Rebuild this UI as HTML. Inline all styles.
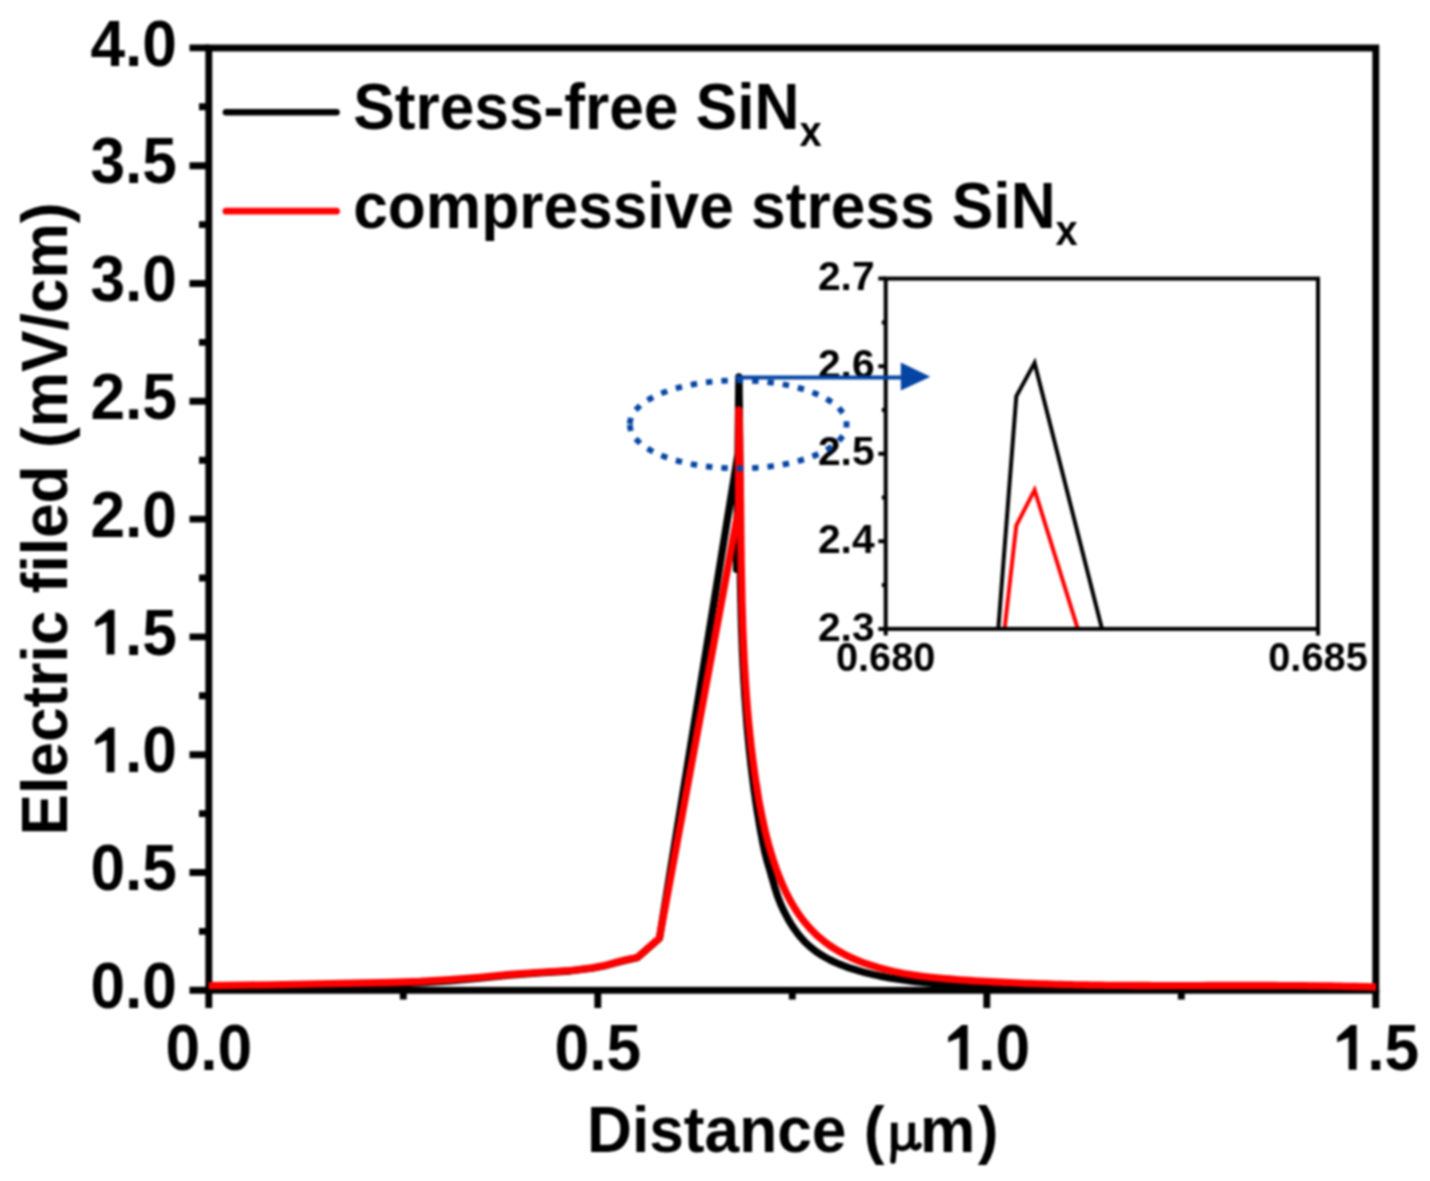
<!DOCTYPE html>
<html><head><meta charset="utf-8"><title>Electric field chart</title>
<style>html,body{margin:0;padding:0;background:#fff;width:1430px;height:1181px;overflow:hidden}</style>
</head><body>
<svg width="1430" height="1181" viewBox="0 0 1430 1181" style="display:block;filter:blur(0.8px)">
<rect width="1430" height="1181" fill="#fff"/>
<text transform="translate(67.20,519.00) rotate(-90) scale(0.958,1)" text-anchor="middle" font-family='"Liberation Sans", sans-serif' font-weight="bold" font-size="65" >Electric filed (mV/cm)</text>
<text transform="translate(587.00,1151.50) scale(0.958,1)" text-anchor="start" font-family='"Liberation Sans", sans-serif' font-weight="bold" font-size="65" >Distance (</text>
<text transform="translate(919.90,1151.50) scale(0.958,1)" text-anchor="start" font-family='"Liberation Sans", sans-serif' font-weight="bold" font-size="65" >m</text>
<text transform="translate(977.80,1151.50) scale(0.958,1)" text-anchor="start" font-family='"Liberation Sans", sans-serif' font-weight="bold" font-size="65" >)</text>
<g fill="none" stroke="#000"><path d="M894.3,1122.7 V1149" stroke-width="6.6"/><path d="M894.3,1146 L893.0,1161" stroke-width="5.6" stroke-linecap="round"/><path d="M894.3,1139 C894.6,1151.5 908.5,1151.5 911.8,1140" stroke-width="5.4"/><path d="M911.8,1122.7 V1141" stroke-width="6.4"/><path d="M911.8,1140 C912,1149 916,1149.5 919.0,1145.3" stroke-width="5.6" stroke-linecap="round"/></g>
<text transform="translate(90.44,1007.90) scale(0.958,1)" text-anchor="start" font-family='"Liberation Sans", sans-serif' font-weight="bold" font-size="65" >0.0</text>
<text transform="translate(90.44,890.10) scale(0.958,1)" text-anchor="start" font-family='"Liberation Sans", sans-serif' font-weight="bold" font-size="65" >0.5</text>
<path d="M530,0 L530,1021 L155,870 L155,1037 L602,1409 L793,1409 L793,0 Z" transform="translate(90.44,772.30) scale(0.030405,-0.031738)" fill="#000"/>
<text transform="translate(125.07,772.30) scale(0.958,1)" text-anchor="start" font-family='"Liberation Sans", sans-serif' font-weight="bold" font-size="65" >.0</text>
<path d="M530,0 L530,1021 L155,870 L155,1037 L602,1409 L793,1409 L793,0 Z" transform="translate(90.44,654.50) scale(0.030405,-0.031738)" fill="#000"/>
<text transform="translate(125.07,654.50) scale(0.958,1)" text-anchor="start" font-family='"Liberation Sans", sans-serif' font-weight="bold" font-size="65" >.5</text>
<text transform="translate(90.44,536.70) scale(0.958,1)" text-anchor="start" font-family='"Liberation Sans", sans-serif' font-weight="bold" font-size="65" >2.0</text>
<text transform="translate(90.44,418.90) scale(0.958,1)" text-anchor="start" font-family='"Liberation Sans", sans-serif' font-weight="bold" font-size="65" >2.5</text>
<text transform="translate(90.44,301.10) scale(0.958,1)" text-anchor="start" font-family='"Liberation Sans", sans-serif' font-weight="bold" font-size="65" >3.0</text>
<text transform="translate(90.44,183.30) scale(0.958,1)" text-anchor="start" font-family='"Liberation Sans", sans-serif' font-weight="bold" font-size="65" >3.5</text>
<text transform="translate(90.44,65.50) scale(0.958,1)" text-anchor="start" font-family='"Liberation Sans", sans-serif' font-weight="bold" font-size="65" >4.0</text>
<text transform="translate(165.52,1069.80) scale(0.958,1)" text-anchor="start" font-family='"Liberation Sans", sans-serif' font-weight="bold" font-size="65" >0.0</text>
<text transform="translate(554.52,1069.80) scale(0.958,1)" text-anchor="start" font-family='"Liberation Sans", sans-serif' font-weight="bold" font-size="65" >0.5</text>
<path d="M530,0 L530,1021 L155,870 L155,1037 L602,1409 L793,1409 L793,0 Z" transform="translate(943.52,1069.80) scale(0.030405,-0.031738)" fill="#000"/>
<text transform="translate(978.15,1069.80) scale(0.958,1)" text-anchor="start" font-family='"Liberation Sans", sans-serif' font-weight="bold" font-size="65" >.0</text>
<path d="M530,0 L530,1021 L155,870 L155,1037 L602,1409 L793,1409 L793,0 Z" transform="translate(1332.52,1069.80) scale(0.030405,-0.031738)" fill="#000"/>
<text transform="translate(1367.15,1069.80) scale(0.958,1)" text-anchor="start" font-family='"Liberation Sans", sans-serif' font-weight="bold" font-size="65" >.5</text>
<path d="M189.5,990.3H208.8 M189.5,872.5H208.8 M189.5,754.7H208.8 M189.5,636.9H208.8 M189.5,519.1H208.8 M189.5,401.3H208.8 M189.5,283.5H208.8 M189.5,165.7H208.8 M189.5,47.9H208.8 M199,931.4H208.8 M199,813.6H208.8 M199,695.8H208.8 M199,578.0H208.8 M199,460.2H208.8 M199,342.4H208.8 M199,224.6H208.8 M199,106.8H208.8 M208.8,990.3V1008 M597.8,990.3V1008 M986.8,990.3V1008 M1375.8,990.3V1008 M403.3,990.3V999.5 M792.3,990.3V999.5 M1181.3,990.3V999.5" stroke="#000" stroke-width="6.9" fill="none"/>
<rect x="208.8" y="48" width="1167.0" height="942.3" fill="none" stroke="#000" stroke-width="6.9"/>
<polyline points="208.8,987.0 270.0,986.2 330.0,985.2 390.0,984.0 420.0,982.8 450.0,980.8 480.0,978.2 510.0,975.2 540.0,972.8 570.0,971.0 592.4,968.2 604.0,966.0 614.0,963.2 625.0,960.4 637.3,957.8 659.5,938.2 737.8,455.0 736.6,569.4 738.9,377.0 739.0,382.3 739.1,387.6 739.1,392.9 739.2,398.2 739.3,403.5 739.3,408.8 739.4,414.1 739.4,419.4 739.5,424.7 739.5,430.1 739.6,435.4 739.6,440.7 739.6,446.0 739.6,451.3 739.7,456.6 739.7,461.9 739.7,467.2 739.7,472.5 739.7,477.8 739.8,483.1 739.8,488.4 739.8,493.7 739.8,499.1 739.8,504.4 739.8,509.7 739.9,515.0 739.9,520.3 739.9,525.6 739.9,530.9 740.0,536.2 740.0,541.5 740.1,546.8 740.1,552.1 740.2,557.5 740.2,562.8 740.3,568.1 740.4,573.4 740.4,578.7 740.5,584.0 740.6,589.3 740.7,594.6 740.8,599.9 741.0,605.2 741.1,610.5 741.2,615.8 741.4,621.1 741.5,626.4 741.7,631.7 741.9,637.0 742.1,642.3 742.3,647.6 742.5,652.9 742.8,658.2 743.0,663.5 743.3,668.8 743.6,674.1 743.8,679.4 744.2,684.7 744.5,690.0 744.8,695.3 745.2,700.6 745.6,705.9 746.0,711.2 746.4,716.5 746.8,721.8 747.2,727.1 747.7,732.4 748.2,737.7 748.7,742.9 749.2,748.2 749.8,753.5 750.4,758.8 750.9,764.1 751.6,769.4 752.2,774.6 752.9,779.9 753.5,785.2 754.2,790.5 755.0,795.7 755.7,801.0 756.5,806.2 757.3,811.4 758.2,816.6 759.0,821.8 759.9,827.0 760.8,832.1 761.8,837.1 762.7,842.2 763.8,847.2 764.8,852.1 766.1,857.1 767.4,862.0 768.9,867.0 770.4,871.9 771.8,876.9 773.2,881.8 774.6,886.8 776.1,891.6 777.7,896.5 779.5,901.2 781.4,905.8 783.6,910.5 786.0,915.1 788.5,919.8 791.3,924.4 794.3,928.9 797.4,933.2 800.8,937.4 804.3,941.3 808.1,945.0 812.1,948.4 816.2,951.6 820.5,954.5 825.0,957.1 829.5,959.6 834.2,961.9 839.0,964.0 843.9,965.9 848.8,967.7 853.8,969.3 858.8,970.8 863.8,972.2 868.9,973.5 874.0,974.7 879.0,975.8 884.1,976.8 889.2,977.8 894.3,978.6 899.5,979.5 904.6,980.2 909.7,980.9 914.9,981.5 920.1,982.1 925.2,982.7 930.4,983.2 935.6,983.7 940.8,984.1 946.1,984.6 951.3,985.0 956.5,985.4 961.7,985.7 967.0,986.1 972.3,986.4 977.5,986.7 982.8,986.9 988.1,987.2 993.4,987.4 998.7,987.6 1003.9,987.8 1009.3,987.9 1014.6,988.1 1019.9,988.2 1025.2,988.3 1030.5,988.4 1035.9,988.5 1041.2,988.6 1046.5,988.6 1051.9,988.7 1057.2,988.7 1062.6,988.7 1067.9,988.7 1073.3,988.7 1078.7,988.7 1084.0,988.6 1089.4,988.6 1094.8,988.5 1100.1,988.5 1105.5,988.4 1110.9,988.3 1116.3,988.2 1121.6,988.1 1127.0,988.0 1132.4,987.9 1137.8,987.8 1143.1,987.7 1148.5,987.6 1153.9,987.5 1159.3,987.4 1164.6,987.3 1170.0,987.2 1175.4,987.1 1180.8,987.0 1186.1,986.9 1191.5,986.8 1196.9,986.7 1202.2,986.6 1207.6,986.5 1212.9,986.4 1218.3,986.3 1223.6,986.2 1229.0,986.1 1234.3,986.1 1239.6,986.0 1245.0,986.0 1250.3,985.9 1255.6,985.9 1260.9,985.9 1266.2,985.9 1271.6,985.9 1276.8,985.9 1282.1,985.9 1287.4,986.0 1292.7,986.0 1298.0,986.1 1303.2,986.2 1308.5,986.3 1313.7,986.4 1319.0,986.6 1324.2,986.8 1329.4,986.9 1334.6,987.1 1339.8,987.3 1345.0,987.6 1350.2,987.9 1355.4,988.1 1360.6,988.4 1365.7,988.8 1370.9,989.1 1376.0,989.5" fill="none" stroke="#000" stroke-width="7.3" stroke-linejoin="round"/>
<polyline points="208.8,985.7 270.0,984.8 330.0,983.7 390.0,982.5 420.0,981.5 450.0,979.7 480.0,977.3 510.0,974.5 540.0,972.3 570.0,970.6 592.4,967.9 604.0,965.7 614.0,962.9 625.0,960.1 637.3,957.5 659.4,938.2 738.5,509.6 738.8,410.0 738.9,410.2 739.0,415.3 739.2,420.3 739.3,425.3 739.4,430.3 739.5,435.4 739.6,440.4 739.7,445.5 739.8,450.5 739.9,455.6 740.0,460.6 740.1,465.7 740.1,470.8 740.2,475.8 740.3,480.9 740.3,486.0 740.4,491.1 740.4,496.1 740.5,501.2 740.6,506.3 740.6,511.4 740.7,516.5 740.7,521.6 740.8,526.7 740.8,531.8 740.9,536.9 740.9,542.0 741.0,547.1 741.1,552.2 741.1,557.3 741.2,562.4 741.3,567.5 741.4,572.6 741.5,577.7 741.6,582.8 741.7,587.9 741.8,593.0 741.9,598.1 742.0,603.2 742.2,608.3 742.3,613.4 742.5,618.5 742.6,623.6 742.8,628.7 743.0,633.8 743.2,638.9 743.4,644.0 743.6,649.1 743.9,654.2 744.1,659.3 744.4,664.4 744.7,669.5 745.0,674.5 745.3,679.6 745.6,684.7 746.0,689.8 746.3,694.8 746.7,699.9 747.1,704.9 747.5,710.0 748.0,715.0 748.4,720.1 748.9,725.1 749.4,730.2 749.9,735.2 750.5,740.2 751.0,745.3 751.6,750.3 752.2,755.3 752.8,760.3 753.5,765.3 754.2,770.3 754.9,775.3 755.6,780.2 756.4,785.2 757.2,790.2 758.0,795.1 758.8,800.1 759.7,805.0 760.7,810.0 761.6,814.9 762.7,819.8 763.7,824.7 764.8,829.6 766.0,834.5 767.2,839.3 768.5,844.2 769.9,849.0 771.3,853.8 772.8,858.6 774.3,863.3 776.0,868.1 777.7,872.8 779.5,877.5 781.4,882.1 783.4,886.7 785.5,891.3 787.8,895.8 790.1,900.2 792.6,904.6 795.2,908.8 797.9,913.0 800.8,917.1 803.8,921.1 807.0,924.9 810.2,928.6 813.7,932.2 817.2,935.6 821.0,938.8 824.8,941.9 828.8,944.9 832.9,947.6 837.1,950.3 841.5,952.7 845.9,955.1 850.4,957.3 855.0,959.3 859.7,961.3 864.4,963.1 869.2,964.8 874.1,966.3 878.9,967.8 883.8,969.1 888.8,970.3 893.7,971.5 898.7,972.5 903.7,973.5 908.7,974.3 913.7,975.1 918.7,975.8 923.8,976.5 928.8,977.1 933.9,977.6 939.0,978.1 944.0,978.6 949.1,979.0 954.2,979.4 959.3,979.8 964.4,980.1 969.5,980.5 974.6,980.8 979.6,981.1 984.7,981.4 989.8,981.7 994.9,982.0 1000.0,982.2 1005.1,982.5 1010.1,982.7 1015.2,982.9 1020.3,983.1 1025.4,983.3 1030.4,983.5 1035.5,983.7 1040.6,983.9 1045.7,984.0 1050.7,984.2 1055.8,984.3 1060.9,984.5 1066.0,984.6 1071.0,984.7 1076.1,984.8 1081.2,984.9 1086.3,985.0 1091.3,985.1 1096.4,985.1 1101.5,985.2 1106.5,985.3 1111.6,985.3 1116.7,985.4 1121.8,985.4 1126.8,985.4 1131.9,985.5 1137.0,985.5 1142.0,985.5 1147.1,985.5 1152.2,985.6 1157.3,985.6 1162.3,985.6 1167.4,985.6 1172.5,985.6 1177.6,985.6 1182.6,985.6 1187.7,985.6 1192.8,985.6 1197.9,985.6 1202.9,985.6 1208.0,985.5 1213.1,985.5 1218.2,985.5 1223.2,985.5 1228.3,985.5 1233.4,985.5 1238.5,985.5 1243.6,985.5 1248.6,985.5 1253.7,985.5 1258.8,985.5 1263.9,985.5 1269.0,985.5 1274.1,985.5 1279.1,985.6 1284.2,985.6 1289.3,985.6 1294.4,985.6 1299.5,985.7 1304.6,985.7 1309.7,985.8 1314.8,985.8 1319.9,985.9 1325.0,985.9 1330.1,986.0 1335.2,986.1 1340.3,986.2 1345.4,986.3 1350.5,986.4 1355.6,986.5 1360.7,986.6 1365.8,986.7 1370.9,986.9 1376.0,987.0" fill="none" stroke="#ff0000" stroke-width="7.3" stroke-linejoin="round"/>
<line x1="226" y1="112.3" x2="336.5" y2="112.3" stroke="#000" stroke-width="6.6" stroke-linecap="round"/>
<line x1="226" y1="211.2" x2="336.5" y2="211.2" stroke="#ff0000" stroke-width="6.8" stroke-linecap="round"/>
<text transform="translate(353.20,128.60) scale(0.958,1)" text-anchor="start" font-family='"Liberation Sans", sans-serif' font-weight="bold" font-size="65" >Stress-free SiN<tspan font-size="41.6" dy="16.9">x</tspan></text>
<text transform="translate(353.20,227.70) scale(0.958,1)" text-anchor="start" font-family='"Liberation Sans", sans-serif' font-weight="bold" font-size="65" >compressive stress SiN<tspan font-size="41.6" dy="17.7">x</tspan></text>
<rect x="885.7" y="278.6" width="432.3" height="350.3" fill="#fff" stroke="none"/>
<polyline points="998.3,628.9 1016.3,396.4 1034.6,362.9 1102.0,628.9" fill="none" stroke="#000" stroke-width="4.0"/>
<polyline points="1004.6,628.9 1016.3,525.5 1034.6,489.9 1077.8,628.9" fill="none" stroke="#ff0000" stroke-width="4.0"/>
<path d="M878.3,628.9H885.7 M878.3,541.3H885.7 M878.3,453.7H885.7 M878.3,366.2H885.7 M878.3,278.6H885.7 M881.8,585.1H885.7 M881.8,497.5H885.7 M881.8,410.0H885.7 M881.8,322.4H885.7 M885.7,628.9V635.5 M1318.0,628.9V635.5" stroke="#000" stroke-width="4.0" fill="none"/>
<rect x="885.7" y="278.6" width="432.3" height="350.3" fill="none" stroke="#000" stroke-width="4.0"/>
<text transform="translate(874.60,640.60) scale(1.0,1)" text-anchor="end" font-family='"Liberation Sans", sans-serif' font-weight="bold" font-size="40.8" >2.3</text>
<text transform="translate(874.60,553.02) scale(1.0,1)" text-anchor="end" font-family='"Liberation Sans", sans-serif' font-weight="bold" font-size="40.8" >2.4</text>
<text transform="translate(874.60,465.45) scale(1.0,1)" text-anchor="end" font-family='"Liberation Sans", sans-serif' font-weight="bold" font-size="40.8" >2.5</text>
<text transform="translate(874.60,377.88) scale(1.0,1)" text-anchor="end" font-family='"Liberation Sans", sans-serif' font-weight="bold" font-size="40.8" >2.6</text>
<text transform="translate(874.60,290.30) scale(1.0,1)" text-anchor="end" font-family='"Liberation Sans", sans-serif' font-weight="bold" font-size="40.8" >2.7</text>
<text transform="translate(885.70,671.20) scale(0.97,1)" text-anchor="middle" font-family='"Liberation Sans", sans-serif' font-weight="bold" font-size="41" >0.680</text>
<text transform="translate(1318.00,671.20) scale(0.97,1)" text-anchor="middle" font-family='"Liberation Sans", sans-serif' font-weight="bold" font-size="41" >0.685</text>
<rect x="627.04" y="418.02" width="6.4" height="5.8" fill="#0444a3" transform="rotate(-79.0 630.24 420.92)"/>
<rect x="634.69" y="404.91" width="6.4" height="5.8" fill="#0444a3" transform="rotate(-44.9 637.89 407.81)"/>
<rect x="647.07" y="395.81" width="6.4" height="5.8" fill="#0444a3" transform="rotate(-29.5 650.27 398.71)"/>
<rect x="661.04" y="389.36" width="6.4" height="5.8" fill="#0444a3" transform="rotate(-20.8 664.24 392.26)"/>
<rect x="675.72" y="384.68" width="6.4" height="5.8" fill="#0444a3" transform="rotate(-14.9 678.92 387.58)"/>
<rect x="690.75" y="381.34" width="6.4" height="5.8" fill="#0444a3" transform="rotate(-10.3 693.95 384.24)"/>
<rect x="706.00" y="379.11" width="6.4" height="5.8" fill="#0444a3" transform="rotate(-6.4 709.20 382.01)"/>
<rect x="721.35" y="377.85" width="6.4" height="5.8" fill="#0444a3" transform="rotate(-3.0 724.55 380.75)"/>
<rect x="736.75" y="377.51" width="6.4" height="5.8" fill="#0444a3" transform="rotate(0.4 739.95 380.41)"/>
<rect x="752.15" y="378.05" width="6.4" height="5.8" fill="#0444a3" transform="rotate(3.7 755.35 380.95)"/>
<rect x="767.48" y="379.53" width="6.4" height="5.8" fill="#0444a3" transform="rotate(7.3 770.68 382.43)"/>
<rect x="782.68" y="381.99" width="6.4" height="5.8" fill="#0444a3" transform="rotate(11.3 785.88 384.89)"/>
<rect x="797.66" y="385.61" width="6.4" height="5.8" fill="#0444a3" transform="rotate(16.1 800.86 388.51)"/>
<rect x="812.21" y="390.65" width="6.4" height="5.8" fill="#0444a3" transform="rotate(22.4 815.41 393.55)"/>
<rect x="825.94" y="397.60" width="6.4" height="5.8" fill="#0444a3" transform="rotate(32.1 829.14 400.50)"/>
<rect x="837.67" y="407.49" width="6.4" height="5.8" fill="#0444a3" transform="rotate(50.4 840.87 410.39)"/>
<rect x="843.30" y="421.50" width="6.4" height="5.8" fill="#0444a3" transform="rotate(89.9 846.50 424.40)"/>
<rect x="837.67" y="435.51" width="6.4" height="5.8" fill="#0444a3" transform="rotate(129.6 840.87 438.41)"/>
<rect x="825.94" y="445.40" width="6.4" height="5.8" fill="#0444a3" transform="rotate(147.9 829.14 448.30)"/>
<rect x="812.21" y="452.35" width="6.4" height="5.8" fill="#0444a3" transform="rotate(157.6 815.41 455.25)"/>
<rect x="797.66" y="457.39" width="6.4" height="5.8" fill="#0444a3" transform="rotate(163.9 800.86 460.29)"/>
<rect x="782.68" y="461.01" width="6.4" height="5.8" fill="#0444a3" transform="rotate(168.7 785.88 463.91)"/>
<rect x="767.48" y="463.47" width="6.4" height="5.8" fill="#0444a3" transform="rotate(172.7 770.68 466.37)"/>
<rect x="752.15" y="464.95" width="6.4" height="5.8" fill="#0444a3" transform="rotate(176.3 755.35 467.85)"/>
<rect x="736.75" y="465.49" width="6.4" height="5.8" fill="#0444a3" transform="rotate(179.6 739.95 468.39)"/>
<rect x="721.35" y="465.15" width="6.4" height="5.8" fill="#0444a3" transform="rotate(-177.0 724.55 468.05)"/>
<rect x="706.00" y="463.89" width="6.4" height="5.8" fill="#0444a3" transform="rotate(-173.6 709.20 466.79)"/>
<rect x="690.75" y="461.66" width="6.4" height="5.8" fill="#0444a3" transform="rotate(-169.7 693.95 464.56)"/>
<rect x="675.72" y="458.32" width="6.4" height="5.8" fill="#0444a3" transform="rotate(-165.1 678.92 461.22)"/>
<rect x="661.04" y="453.64" width="6.4" height="5.8" fill="#0444a3" transform="rotate(-159.2 664.24 456.54)"/>
<rect x="647.07" y="447.19" width="6.4" height="5.8" fill="#0444a3" transform="rotate(-150.5 650.27 450.09)"/>
<rect x="634.69" y="438.09" width="6.4" height="5.8" fill="#0444a3" transform="rotate(-135.1 637.89 440.99)"/>
<rect x="627.04" y="424.98" width="6.4" height="5.8" fill="#0444a3" transform="rotate(-101.0 630.24 427.88)"/>
<line x1="735" y1="377.5" x2="903" y2="377.5" stroke="#0444a3" stroke-width="4.2"/>
<polygon points="900.8,362.5 930.3,376.8 900.8,390.5" fill="#0444a3"/>
</svg>
</body></html>
